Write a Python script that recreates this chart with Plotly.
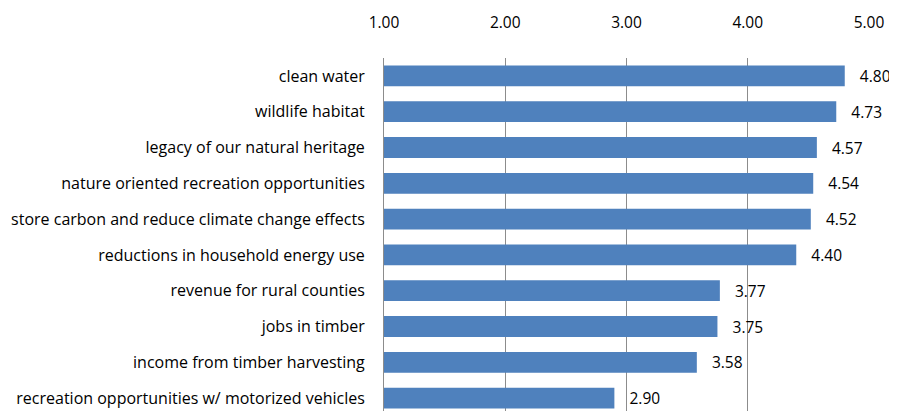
import plotly.graph_objects as go

categories = [
    'clean water',
    'wildlife habitat',
    'legacy of our natural heritage',
    'nature oriented recreation opportunities',
    'store carbon and reduce climate change effects',
    'reductions in household energy use',
    'revenue for rural counties',
    'jobs in timber',
    'income from timber harvesting',
    'recreation opportunities w/ motorized vehicles',
]
scores = [4.80, 4.73, 4.57, 4.54, 4.52, 4.40, 3.77, 3.75, 3.58, 2.90]
tick_vals = [1, 2, 3, 4, 5]
tick_text = ['1.00', '2.00', '3.00', '4.00', '5.00']

BAR = '#4f81bd'
GRID = '#8c8c8c'
FONT = 'Open Sans, sans-serif'

# the page body has an 8px margin, so margins are shifted to compensate
fig = go.Figure(go.Bar(
    y=categories,
    x=[s - 1 for s in scores],
    base=1,
    orientation='h',
    width=0.58,
    marker=dict(color=BAR, line=dict(width=0)),
    text=['\u00a0\u00a0\u00a0' + f'{s:.2f}' for s in scores],
    textposition='outside',
    constraintext='none',
    textfont=dict(size=15.5, color='#000000', family=FONT),
    cliponaxis=False,
    hovertemplate='%{y}: %{x}<extra></extra>',
))

fig.update_layout(
    width=897, height=411,
    margin=dict(l=376, r=36, t=48, b=3),
    plot_bgcolor='white', paper_bgcolor='white',
    font=dict(family=FONT, color='#000000', size=16),
    showlegend=False,
    xaxis=dict(
        side='top', range=[1, 5], tickvals=tick_vals, ticktext=tick_text,
        showgrid=True, gridcolor=GRID, gridwidth=1,
        zeroline=False, showline=False,
        ticks='outside', ticklen=23, tickcolor='rgba(0,0,0,0)',
        tickfont=dict(size=15.5),
    ),
    yaxis=dict(
        type='category', range=[9.5, -0.5],
        showgrid=False, zeroline=False,
        showline=True, linecolor=GRID, linewidth=1,
        ticks='outside', ticklen=15, tickcolor='rgba(0,0,0,0)',
        tickfont=dict(size=16),
    ),
)

fig.write_html('out.html')
